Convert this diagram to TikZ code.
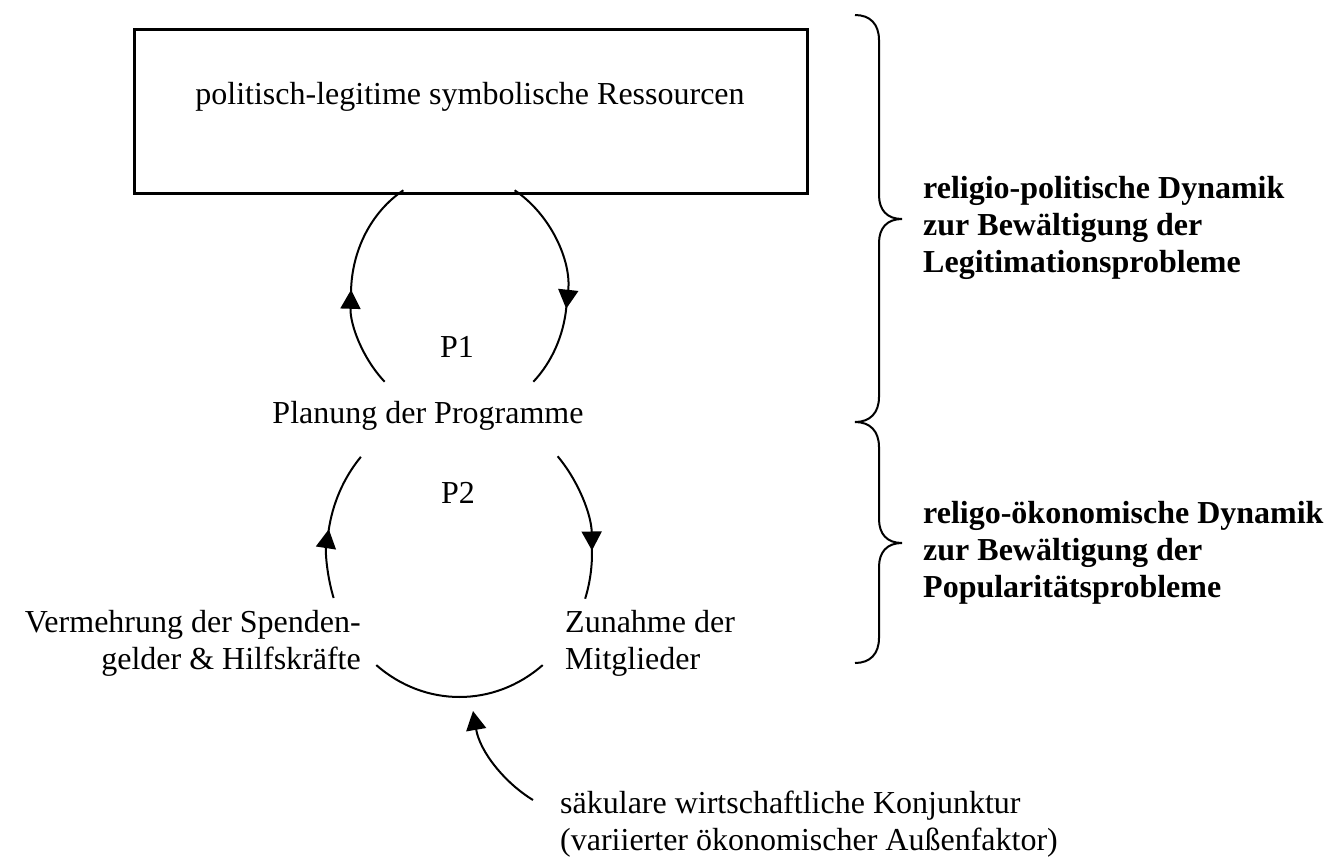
\documentclass[tikz,border=0pt]{standalone}
\usepackage{fontspec}
\setmainfont{Liberation Serif}
\usetikzlibrary{arrows.meta}
\begin{document}
\begin{tikzpicture}[x=1pt,y=-1pt,
  lbl/.style={inner sep=0pt, font=\fontsize{32}{37}\selectfont},
  blbl/.style={inner sep=0pt, font=\fontsize{32}{37}\selectfont\bfseries},
  line/.style={line width=2pt},
  arr/.style={line width=2pt, -{Triangle[width=20pt,length=19pt]}},
  bracestyle/.style={line width=2pt}]
\useasboundingbox (0,0) rectangle (1342,860);
\fill[white] (0,0) rectangle (1342,860);
% box
\node[draw, line width=2.5pt, minimum width=673pt, minimum height=164pt, inner sep=0pt, anchor=north west] (box) at (133,28) {};
\node[lbl, anchor=base] (title) at (470,104) {politisch-legitime symbolische Ressourcen};
% upper loop
\coordinate (U) at (459,294);
\draw[arr] ([shift={(133.5:108 and 121)}]U) arc[start angle=133.5, end angle=182, x radius=108, y radius=121];
\draw[line] ([shift={(181:108 and 121)}]U) arc[start angle=181, end angle=239, x radius=108, y radius=121];
\draw[arr] ([shift={(-59:108 and 121)}]U) arc[start angle=-59, end angle=7, x radius=108, y radius=121];
\draw[line] ([shift={(6:108 and 121)}]U) arc[start angle=6, end angle=46.5, x radius=108, y radius=121];
\node[lbl, anchor=base] (p1) at (457,357) {P1};
\node[lbl, anchor=base] (plan) at (428,423) {Planung der Programme};
% lower loop
\coordinate (L) at (459.5,553);
\draw[arr] ([shift={(161.8:132.5 and 144)}]L) arc[start angle=161.8, end angle=189.5, x radius=132.5, y radius=144];
\draw[line] ([shift={(188.5:132.5 and 144)}]L) arc[start angle=188.5, end angle=221.9, x radius=132.5, y radius=144];
\draw[arr] ([shift={(-42.2:132.5 and 144)}]L) arc[start angle=-42.2, end angle=-1, x radius=132.5, y radius=144];
\draw[line] ([shift={(-2:132.5 and 144)}]L) arc[start angle=-2, end angle=18.5, x radius=132.5, y radius=144];
\draw[line] ([shift={(51.1:132.5 and 144)}]L) arc[start angle=51.1, end angle=128.9, x radius=132.5, y radius=144];
\node[lbl, anchor=base] (p2) at (458,503) {P2};
\node[lbl, anchor=base east] (sp1) at (361,632) {Vermehrung der Spenden-};
\node[lbl, anchor=base east] (sp2) at (361,669) {gelder \& Hilfskräfte};
\node[lbl, anchor=base west] (mg1) at (565,632) {Zunahme der};
\node[lbl, anchor=base west] (mg2) at (565,669) {Mitglieder};
% external factor
\node[lbl, anchor=base west] (k1) at (560,813) {säkulare wirtschaftliche Konjunktur};
\node[lbl, anchor=base west] (k2) at (560,850) {(variierter ökonomischer Außenfaktor)};
\coordinate (ks) at (533,800);
\coordinate (kt) at (473,711);
\draw[arr] (ks) .. controls (505,783) and (480,752) .. (kt);
% braces
\draw[bracestyle] (855,15) .. controls (870,15) and (879,24) .. (879,40) -- (879,195)
  .. controls (879,210) and (887,219) .. (902,219)
  .. controls (887,219) and (879,228) .. (879,243) -- (879,397)
  .. controls (879,413) and (870,422) .. (855,422);
\draw[bracestyle] (855,422) .. controls (870,422) and (879,431) .. (879,447) -- (879,519)
  .. controls (879,534) and (887,543) .. (902,543)
  .. controls (887,543) and (879,552) .. (879,567) -- (879,638)
  .. controls (879,654) and (870,663) .. (855,663);
% brace labels
\node[blbl, anchor=base west] (r1) at (923,198) {religio-politische Dynamik};
\node[blbl, anchor=base west] (r2) at (923,235) {zur Bewältigung der};
\node[blbl, anchor=base west] (r3) at (923,272) {Legitimationsprobleme};
\node[blbl, anchor=base west] (o1) at (923,523) {religo-ökonomische Dynamik};
\node[blbl, anchor=base west] (o2) at (923,560) {zur Bewältigung der};
\node[blbl, anchor=base west] (o3) at (923,597) {Popularitätsprobleme};
\end{tikzpicture}
\end{document}
